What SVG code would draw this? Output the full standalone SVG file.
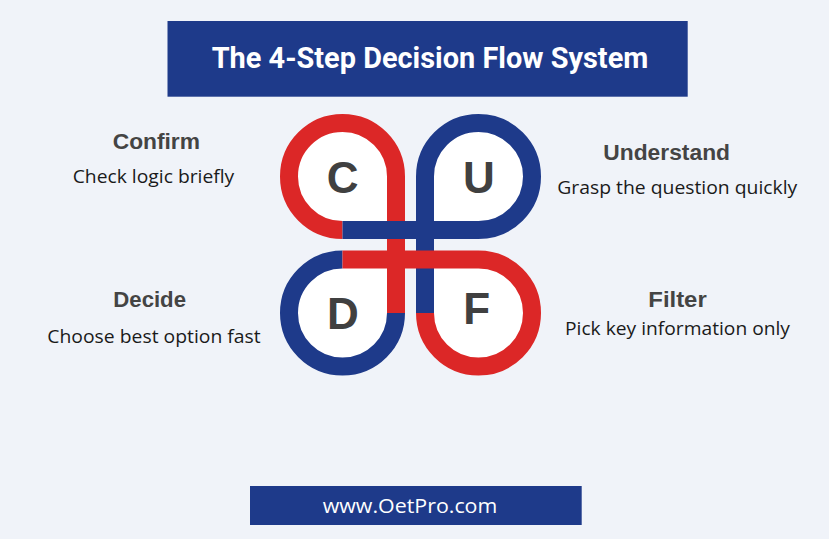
<svg xmlns="http://www.w3.org/2000/svg" width="829" height="539" viewBox="0 0 829 539">
<style>
.bg{fill:#f0f3f9}
.box{fill:#1e3a8a}
.title{font-family:Roboto,"Liberation Sans",sans-serif;font-weight:700;font-size:30px;fill:#ffffff}
.foot{font-family:"Open Sans","Liberation Sans",sans-serif;font-size:20px;fill:#ffffff}
.head{font-family:"Liberation Sans",Arial,sans-serif;font-weight:700;font-size:22px;fill:#444444}
.desc{font-family:"Open Sans","Liberation Sans",sans-serif;font-size:19px;fill:#1a1a1a}
.letter{font-family:"Liberation Sans",Arial,sans-serif;font-weight:700;font-size:44px;fill:#404040;text-anchor:middle}
.inner{fill:#ffffff}
.rib{fill:none;stroke-width:18;stroke-linecap:butt;stroke-linejoin:miter}
.red{stroke:#dc2727}
.blue{stroke:#1e3a8a}
</style>
<rect class="bg" x="0" y="0" width="829" height="539"/>
<g id="title">
<rect class="box" x="167.5" y="21" width="520.2" height="75.7"/>
<text class="title" x="211.7" y="68.3" textLength="436.6" lengthAdjust="spacingAndGlyphs">The 4-Step Decision Flow System</text>
</g>
<g id="loops">
<path class="inner" d="M342.5,230 A53.5,53.5 0 1 1 396,176.5 L396,230 Z"/>
<path class="inner" d="M478.5,230 A53.5,53.5 0 1 0 425,176.5 L425,230 Z"/>
<path class="inner" d="M342.5,259.5 A53.5,53.5 0 1 0 396,313 L396,259.5 Z"/>
<path class="inner" d="M425,313 A53.5,53.5 0 1 0 478.5,259.5 L425,259.5 Z"/>
</g>
<g id="connectors">
<path class="rib blue" d="M342.5,259.5 A53.5,53.5 0 1 0 396,313"/>
<path class="rib blue" d="M425,176.5 L425,313"/>
<path class="rib red" d="M425,313 A53.5,53.5 0 1 0 478.5,259.5 L342.5,259.5"/>
<path class="rib red" d="M342.5,230 A53.5,53.5 0 1 1 396,176.5 L396,313"/>
<path class="rib blue" d="M342.5,230 L478.5,230 A53.5,53.5 0 1 0 425,176.5 L425,200"/>
</g>
<g id="node-c">
<text class="letter" x="342.7" y="192.7">C</text>
<text class="head" x="112.7" y="149.3" textLength="87.3" lengthAdjust="spacingAndGlyphs">Confirm</text>
<text class="desc" x="72.7" y="183.3" textLength="161.6" lengthAdjust="spacingAndGlyphs">Check logic briefly</text>
</g>
<g id="node-u">
<text class="letter" x="478.8" y="192.7">U</text>
<text class="head" x="603.3" y="160" textLength="126.7" lengthAdjust="spacingAndGlyphs">Understand</text>
<text class="desc" x="557.3" y="194.3" textLength="240" lengthAdjust="spacingAndGlyphs">Grasp the question quickly</text>
</g>
<g id="node-d">
<text class="letter" x="343" y="329.3">D</text>
<text class="head" x="113.3" y="307.3" textLength="72.7" lengthAdjust="spacingAndGlyphs">Decide</text>
<text class="desc" x="47.3" y="343.3" textLength="213.4" lengthAdjust="spacingAndGlyphs">Choose best option fast</text>
</g>
<g id="node-f">
<text class="letter" x="476.7" y="324">F</text>
<text class="head" x="648.3" y="306.7" textLength="58.4" lengthAdjust="spacingAndGlyphs">Filter</text>
<text class="desc" x="565" y="335" textLength="225" lengthAdjust="spacingAndGlyphs">Pick key information only</text>
</g>
<g id="footer">
<rect class="box" x="250" y="486" width="331.7" height="39"/>
<text class="foot" x="322.7" y="513.3" textLength="174.6" lengthAdjust="spacingAndGlyphs">www.OetPro.com</text>
</g>
</svg>
